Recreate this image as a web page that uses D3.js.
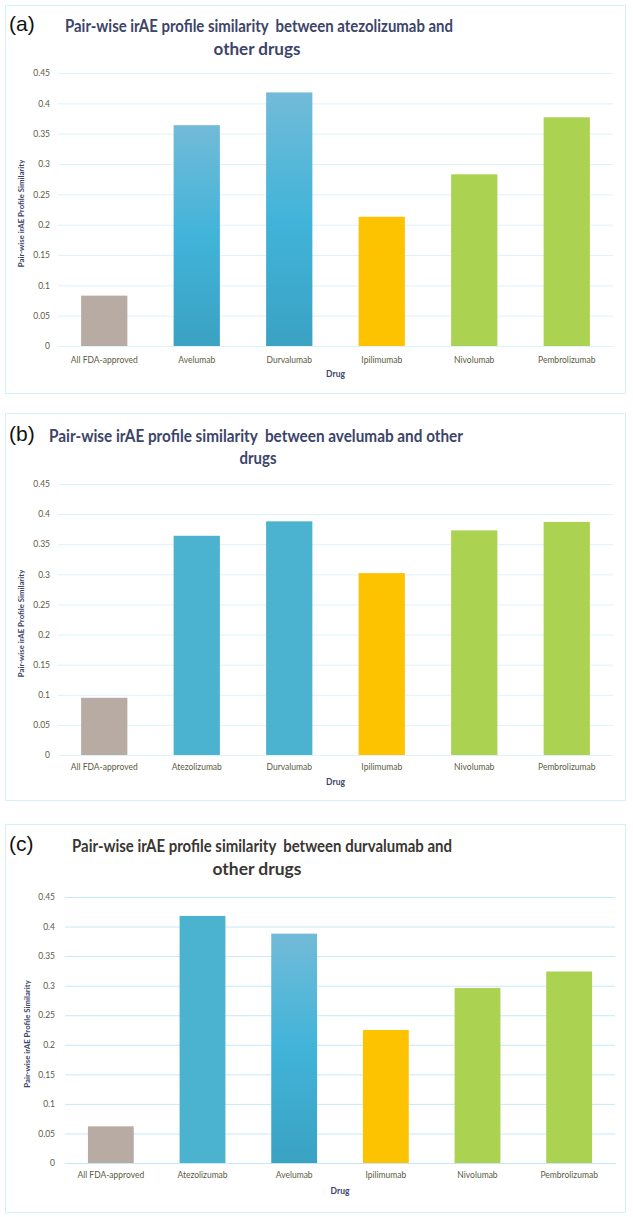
<!DOCTYPE html>
<html><head><meta charset="utf-8">
<script src="https://cdn.jsdelivr.net/npm/d3@7"></script>
<style>body{margin:0;background:#fff}svg{display:block}</style>
</head><body>
<script>
// ---- data ----
const yTickValues = [0, 0.05, 0.1, 0.15, 0.2, 0.25, 0.3, 0.35, 0.4, 0.45];
const yTickLabels = ["0", "0.05", "0.1", "0.15", "0.2", "0.25", "0.3", "0.35", "0.4", "0.45"];

const categoriesA = ["All FDA-approved", "Avelumab", "Durvalumab", "Ipilimumab", "Nivolumab", "Pembrolizumab"];
const valuesA = [0.083, 0.364, 0.418, 0.213, 0.283, 0.377];
const titleA = ["Pair-wise irAE profile similarity  between atezolizumab and", "other drugs"];

const categoriesB = ["All FDA-approved", "Atezolizumab", "Durvalumab", "Ipilimumab", "Nivolumab", "Pembrolizumab"];
const valuesB = [0.095, 0.364, 0.388, 0.302, 0.373, 0.387];
const titleB = ["Pair-wise irAE profile similarity  between avelumab and other", "drugs"];

const categoriesC = ["All FDA-approved", "Atezolizumab", "Avelumab", "Ipilimumab", "Nivolumab", "Pembrolizumab"];
const valuesC = [0.062, 0.418, 0.388, 0.225, 0.296, 0.324];
const titleC = ["Pair-wise irAE profile similarity  between durvalumab and", "other drugs"];

const panelLetters = ["(a)", "(b)", "(c)"];
const yAxisTitle = "Pair-wise irAE Profile Similarity";
const xAxisTitle = "Drug";

// ---- styles / layout ----
const W = 633, H = 1217;
const svg = d3.select("body").append("svg").attr("width", W).attr("height", H);
const defs = svg.append("defs");
const grad = defs.append("linearGradient").attr("id", "blueGrad").attr("x1", 0).attr("y1", 0).attr("x2", 0).attr("y2", 1);
grad.append("stop").attr("offset", "0%").attr("stop-color", "#72bbd8");
grad.append("stop").attr("offset", "50%").attr("stop-color", "#41b4d9");
grad.append("stop").attr("offset", "100%").attr("stop-color", "#3aa2c3");

const colorFor = {
  "All FDA-approved": "#b8aba4",
  "Ipilimumab": "#fec300",
  "Nivolumab": "#acd251",
  "Pembrolizumab": "#acd251"
};
const flatBlue = "#4bb3d0";

const panels = [
  { cats: categoriesA, vals: valuesA, title: titleA, letter: panelLetters[0],
    box: [5, 5, 620, 388], x: [58, 613], y0: 346, yTop: 73, titleX: [259, 257], titleY: [32, 55], titleW: [388, 87],
    letterY: 31, labelY: 363, drugY: 377, yTitleX: 24, tickX: 50,
    titleColor: "#3c4568", grid: "#dcf3fa", gradCats: ["Avelumab", "Durvalumab"] },
  { cats: categoriesB, vals: valuesB, title: titleB, letter: panelLetters[1],
    box: [5, 413, 620, 387], x: [58, 613], y0: 755, yTop: 484, titleX: [256, 258], titleY: [442, 464], titleW: [414, 37],
    letterY: 441, labelY: 770, drugY: 785, yTitleX: 24, tickX: 50,
    titleColor: "#3c4568", grid: "#dcf3fa", gradCats: [] },
  { cats: categoriesC, vals: valuesC, title: titleC, letter: panelLetters[2],
    box: [5, 824, 620, 388], x: [65, 615], y0: 1163, yTop: 897, titleX: [262, 257], titleY: [852, 875], titleW: [380, 89],
    letterY: 851, labelY: 1178, drugY: 1194, yTitleX: 30, tickX: 55,
    titleColor: "#3a3632", grid: "#c6e9f6", gradCats: ["Avelumab"] }
];

const FONT = "Lato, 'Open Sans', sans-serif";

panels.forEach(p => {
  const g = svg.append("g");
  g.append("rect").attr("x", p.box[0] + 0.5).attr("y", p.box[1] + 0.5)
    .attr("width", p.box[2]).attr("height", p.box[3])
    .attr("fill", "#fff").attr("stroke", "#d3f1f9").attr("stroke-width", 1);

  g.append("text").attr("x", 9).attr("y", p.letterY).text(p.letter)
    .attr("font-family", "'Liberation Sans', Arial, sans-serif").attr("font-size", 21).attr("fill", "#111");

  p.title.forEach((t, i) => {
    g.append("text").attr("x", p.titleX[i]).attr("y", p.titleY[i]).attr("text-anchor", "middle")
      .attr("font-family", FONT).attr("font-weight", "bold").attr("font-size", 16.5)
      .style("white-space", "pre")
      .attr("textLength", p.titleW[i]).attr("lengthAdjust", "spacingAndGlyphs")
      .attr("fill", p.titleColor).text(t);
  });

  const x = d3.scaleBand().domain(p.cats).range(p.x).paddingInner(0.5).paddingOuter(0.25);
  const y = d3.scaleLinear().domain([0, 0.45]).range([p.y0, p.yTop]);

  // gridlines
  const yAxis = d3.axisLeft(y).tickValues(yTickValues)
    .tickFormat((d, i) => yTickLabels[i]).tickSize(-(p.x[1] - p.x[0])).tickPadding(8);
  const ya = g.append("g").attr("transform", `translate(${p.x[0]},0)`).call(yAxis);
  ya.select(".domain").remove();
  ya.selectAll(".tick line").attr("stroke", p.grid).attr("stroke-width", 1);
  ya.selectAll(".tick text").attr("font-family", FONT).attr("font-size", 8.5)
    .attr("fill", "#5b5b45").attr("x", p.tickX - p.x[0]);

  // bars
  g.selectAll(".bar").data(p.cats).enter().append("rect")
    .attr("x", d => x(d)).attr("width", x.bandwidth())
    .attr("y", (d, i) => y(p.vals[i])).attr("height", (d, i) => y(0) - y(p.vals[i]))
    .attr("fill", d => colorFor[d] || (p.gradCats.includes(d) ? "url(#blueGrad)" : flatBlue));

  // x axis
  const xAxis = d3.axisBottom(x).tickSize(0).tickPadding(0);
  const xa = g.append("g").attr("transform", `translate(0,${p.y0})`).call(xAxis);
  xa.select(".domain").attr("stroke", p.grid);
  xa.selectAll(".tick text").attr("font-family", FONT).attr("font-size", 8.5)
    .attr("fill", "#5b5b45").attr("dy", 0).attr("y", p.labelY - p.y0);

  g.append("text").attr("x", (p.x[0] + p.x[1]) / 2).attr("y", p.drugY).attr("text-anchor", "middle")
    .attr("font-family", FONT).attr("font-weight", "bold").attr("font-size", 8.5)
    .attr("fill", "#3c4568").text(xAxisTitle);

  const midY = (p.y0 + p.yTop) / 2 + 4;
  g.append("text").attr("transform", `translate(${p.yTitleX},${midY}) rotate(-90)`)
    .attr("text-anchor", "middle").attr("font-family", FONT).attr("font-weight", "bold")
    .attr("font-size", 7.8).attr("fill", "#3c4568").text(yAxisTitle);
});
</script>
</body></html>
